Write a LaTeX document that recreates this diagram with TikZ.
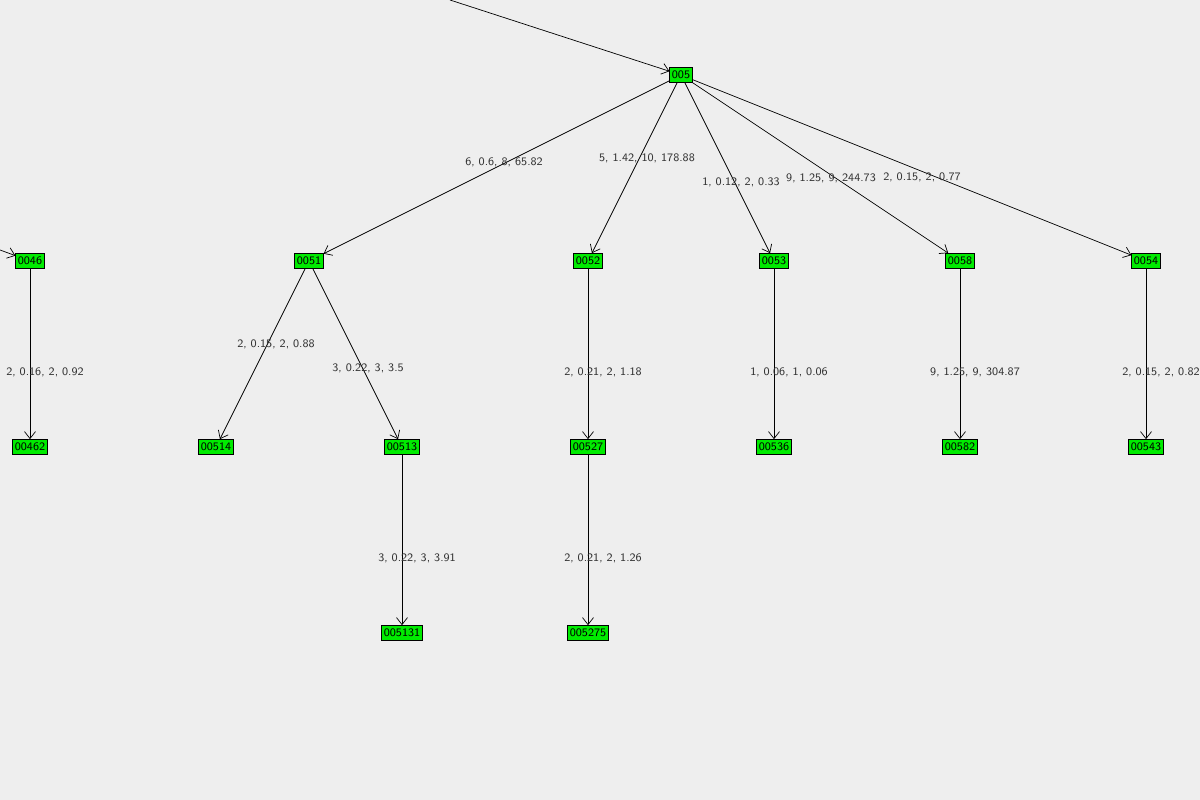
\documentclass[tikz,border=0pt]{standalone}
\usepackage{tikz}
\usetikzlibrary{arrows.meta}
\definecolor{bgcol}{RGB}{238,238,238}
\definecolor{nodegreen}{RGB}{0,235,0}
\tikzstyle{vertex} = [rectangle, draw=black, fill=nodegreen, inner sep=1.2pt, minimum height=0.3cm, text centered, font=\fontsize{6.5}{7}\sffamily]
\tikzstyle{weight} = [font=\fontsize{6.5}{7}\sffamily, text=black!80, inner sep=0pt]
\tikzstyle{arrow} = [thin, -{Straight Barb[length=1.4mm, width=2.2mm]}]

\begin{document}
\begin{tikzpicture}[x=0.02cm, y=-0.02cm]
    \fill[bgcol] (0,0) rectangle (1200,800);
    \useasboundingbox (0,0) rectangle (1200,800);

    \node (n005)   [vertex] at (681,75) {005};

    \node (n0046)  [vertex] at (30,261) {0046};
    \node (n0051)  [vertex] at (309,261) {0051};
    \node (n0052)  [vertex] at (588,261) {0052};
    \node (n0053)  [vertex] at (774,261) {0053};
    \node (n0058)  [vertex] at (960,261) {0058};
    \node (n0054)  [vertex] at (1146,261) {0054};

    \node (n00462) [vertex] at (30,447) {00462};
    \node (n00514) [vertex] at (216,447) {00514};
    \node (n00513) [vertex] at (402,447) {00513};
    \node (n00527) [vertex] at (588,447) {00527};
    \node (n00536) [vertex] at (774,447) {00536};
    \node (n00582) [vertex] at (960,447) {00582};
    \node (n00543) [vertex] at (1146,447) {00543};

    \node (n005131) [vertex] at (402,633) {005131};
    \node (n005275) [vertex] at (588,633) {005275};

    \coordinate (intop) at (450,0);
    \coordinate (inleft) at (0,250);

\draw [arrow] (intop) -- (n005);
\draw [arrow] (inleft) -- (n0046);

\draw [arrow] (n005) -- (n0051);
\draw [arrow] (n005) -- (n0052);
\draw [arrow] (n005) -- (n0053);
\draw [arrow] (n005) -- (n0058);
\draw [arrow] (n005) -- (n0054);

\draw [arrow] (n0046) -- (n00462);
\draw [arrow] (n0051) -- (n00514);
\draw [arrow] (n0051) -- (n00513);
\draw [arrow] (n0052) -- (n00527);
\draw [arrow] (n0053) -- (n00536);
\draw [arrow] (n0058) -- (n00582);
\draw [arrow] (n0054) -- (n00543);
\draw [arrow] (n00513) -- (n005131);
\draw [arrow] (n00527) -- (n005275);

    % edge weights
    \node (w0051) [weight] at (504,162) {6, 0.6, 8, 65.82};
    \node (w0052) [weight] at (647,158) {5, 1.42, 10, 178.88};
    \node (w0053) [weight] at (741,182) {1, 0.12, 2, 0.33};
    \node (w0058) [weight] at (831,178) {9, 1.25, 9, 244.73};
    \node (w0054) [weight] at (922,177) {2, 0.15, 2, 0.77};
    \node (w00462) [weight] at (45,372) {2, 0.16, 2, 0.92};
    \node (w00514) [weight] at (276,344) {2, 0.15, 2, 0.88};
    \node (w00513) [weight] at (368,368) {3, 0.22, 3, 3.5};
    \node (w00527) [weight] at (603,372) {2, 0.21, 2, 1.18};
    \node (w00536) [weight] at (789,372) {1, 0.06, 1, 0.06};
    \node (w00582) [weight] at (975,372) {9, 1.25, 9, 304.87};
    \node (w00543) [weight] at (1161,372) {2, 0.15, 2, 0.82};
    \node (w005131) [weight] at (417,558) {3, 0.22, 3, 3.91};
    \node (w005275) [weight] at (603,558) {2, 0.21, 2, 1.26};

\end{tikzpicture}
\end{document}
